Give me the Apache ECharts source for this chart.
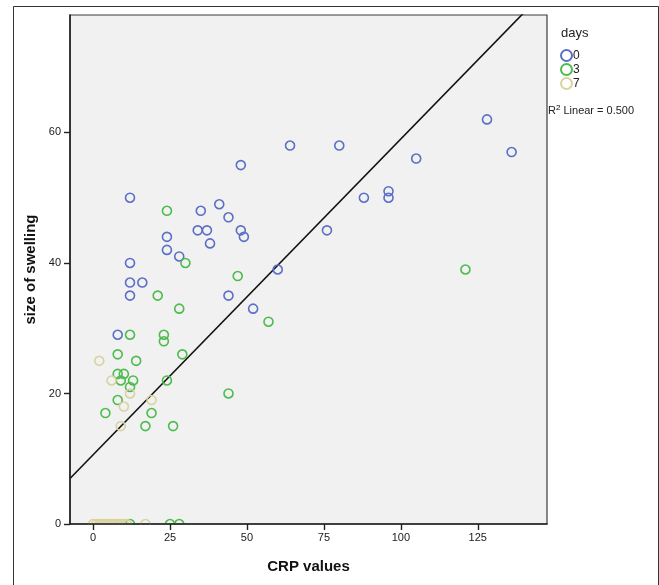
<!DOCTYPE html>
<html>
<head>
<meta charset="utf-8">
<script src="https://cdn.jsdelivr.net/npm/echarts@6/dist/echarts.min.js"></script>
<style>html,body{margin:0;padding:0;background:#fff;}#c{width:659px;height:585px;}</style>
</head>
<body>
<div id="c"></div>
<script>
// ---- data ----
var seriesNames = ['0', '3', '7'];
var day0 = [[48,55],[12,50],[35,48],[41,49],[44,47],[34,45],[37,45],[48,45],[49,44],[38,43],[24,44],[24,42],[28,41],[12,40],[12,37],[16,37],[12,35],[44,35],[52,33],[8,29],[64,58],[80,58],[88,50],[76,45],[60,39],[128,62],[136,57],[105,56],[96,51],[96,50]];
var day3 = [[24,48],[30,40],[47,38],[21,35],[28,33],[12,29],[23,29],[23,28],[8,26],[29,26],[14,25],[8,23],[10,23],[9,22],[13,22],[24,22],[12,21],[44,20],[8,19],[4,17],[19,17],[17,15],[26,15],[57,31],[121,39],[12,0],[25,0],[28,0]];
var day7 = [[2,25],[6,22],[12,20],[19,19],[10,18],[9,15],[0,0],[1,0],[2,0],[3,0],[4,0],[5,0],[6,0],[7,0],[8,0],[9,0],[10,0],[11,0],[17,0]];
var xTicks = [0, 25, 50, 75, 100, 125];
var yTicks = [0, 20, 40, 60];
var xRange = [-7.5, 147.5];
var yRange = [0, 78];
var fitIntercept = 10.6;
var fitSlope = 0.484;
var r2Text = '0.500';

var colors = ['#5b6fc6', '#4dbb4d', '#d9d3a0'];
var fitLine = [[xRange[0], fitIntercept + fitSlope * xRange[0]], [xRange[1], fitIntercept + fitSlope * xRange[1]]];

var chart = echarts.init(document.getElementById('c'), null, {renderer: 'canvas'});
var font = 'Liberation Sans, Arial, sans-serif';
function scat(name, data, color) {
  return {
    name: name, type: 'scatter', data: data, symbol: 'circle', symbolSize: 9,
    itemStyle: {color: 'rgba(0,0,0,0)', borderColor: color, borderWidth: 1.6, opacity: 1},
    clip: true, z: 3
  };
}
chart.setOption({
  animation: false,
  backgroundColor: '#ffffff',
  grid: {left: 70, top: 15, width: 477, height: 509, show: true, backgroundColor: '#f1f1f1', borderColor: '#3a3a3a', borderWidth: 1.2},
  xAxis: {
    type: 'value', min: xRange[0], max: xRange[1], z: 6,
    name: 'CRP values', nameLocation: 'middle', nameGap: 35,
    nameTextStyle: {fontFamily: font, fontWeight: 'bold', fontSize: 15, color: '#111'},
    axisLine: {show: true, onZero: false, lineStyle: {color: '#222', width: 1.6}},
    axisTick: {show: true, length: 6, lineStyle: {color: '#222', width: 1.4}, customValues: xTicks},
    axisLabel: {fontFamily: font, fontSize: 11, color: '#1a1a1a', margin: 8, customValues: xTicks},
    splitLine: {show: false}
  },
  yAxis: {
    type: 'value', min: yRange[0], max: yRange[1], z: 6,
    name: 'size of swelling', nameLocation: 'middle', nameGap: 28,
    nameTextStyle: {fontFamily: font, fontWeight: 'bold', fontSize: 15, color: '#111'},
    axisLine: {show: true, onZero: false, lineStyle: {color: '#222', width: 1.6}},
    axisTick: {show: true, length: 6, lineStyle: {color: '#222', width: 1.4}, customValues: yTicks},
    axisLabel: {fontFamily: font, fontSize: 11, color: '#1a1a1a', margin: 9, customValues: yTicks},
    splitLine: {show: false}
  },
  legend: {
    orient: 'vertical', left: 555, top: 44, itemGap: 1, itemWidth: 11, itemHeight: 11,
    data: seriesNames, textStyle: {fontFamily: font, fontSize: 12, color: '#222', padding: [0,0,0,-4]},
    selectedMode: false
  },
  graphic: [
    {type: 'rect', left: 11, top: 4, z: 1, shape: {width: 645, height: 579}, style: {fill: 'none', stroke: '#333', lineWidth: 1}, silent: true},
    {type: 'rect', left: 72, top: 525, z: 5, shape: {width: 472, height: 7}, style: {fill: '#ffffff'}, silent: true},
    {type: 'text', left: 561, top: 27, style: {text: 'days', font: '13px ' + font, fill: '#222'}},
    {type: 'text', left: 548, top: 104, style: {
      text: '{r|R}{s|2}{r| Linear = ' + r2Text + '}',
      rich: {r: {fontFamily: font, fontSize: 11, fill: '#222', color: '#222'}, s: {fontFamily: font, fontSize: 8, verticalAlign: 'top', color: '#222', padding: [0,0,6,0]}}
    }}
  ],
  series: [
    scat(seriesNames[0], day0, colors[0]),
    scat(seriesNames[1], day3, colors[1]),
    scat(seriesNames[2], day7, colors[2]),
    {type: 'line', data: fitLine, symbol: 'none', clip: true, z: 2, silent: true,
     lineStyle: {color: '#111', width: 1.6}, legendHoverLink: false}
  ]
});
</script>
</body>
</html>
